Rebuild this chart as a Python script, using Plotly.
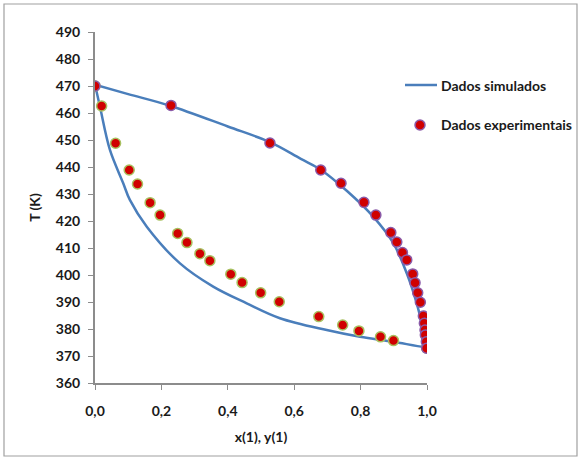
import plotly.graph_objects as go

# Simulated curves
sim_dew_x = [0.0, 0.1, 0.226, 0.4, 0.527, 0.62, 0.68, 0.76, 0.838, 0.899, 0.939, 0.969, 0.989, 1.0]
sim_dew_T = [470.5, 467.0, 462.7, 455.0, 449.2, 443.0, 439.0, 431.0, 421.6, 411.7, 400.6, 389.5, 379.6, 373.5]
sim_bub_x = [0.0, 0.015, 0.045, 0.085, 0.105, 0.156, 0.256, 0.356, 0.457, 0.557, 0.698, 0.798, 0.898, 0.989, 1.0]
sim_bub_T = [470.5, 462.3, 446.3, 434.0, 427.8, 417.9, 404.3, 395.7, 389.5, 384.0, 379.6, 377.1, 375.3, 373.4, 373.5]

# Experimental data
exp_y1 = [0.0, 0.229, 0.527, 0.680, 0.741, 0.810, 0.846, 0.891, 0.909, 0.926, 0.939, 0.957, 0.964,
          0.972, 0.980, 0.989, 0.992, 0.994, 0.995, 0.998, 0.999]
exp_Ty = [470.0, 462.8, 448.9, 438.9, 434.0, 426.9, 422.2, 415.7, 412.2, 408.3, 405.6, 400.4, 397.1,
          393.4, 389.9, 384.8, 382.1, 379.6, 377.8, 375.3, 372.9]
exp_x1 = [0.0, 0.020, 0.062, 0.103, 0.128, 0.166, 0.196, 0.249, 0.277, 0.316, 0.346, 0.409, 0.443,
          0.499, 0.555, 0.674, 0.746, 0.795, 0.860, 0.899, 0.999]
exp_Tx = [470.0, 462.6, 448.8, 438.9, 433.7, 426.8, 422.2, 415.4, 412.0, 407.9, 405.3, 400.3, 397.2,
          393.4, 390.1, 384.6, 381.5, 379.3, 377.1, 375.7, 373.0]

legend_labels = ["Dados simulados", "Dados experimentais"]

FONT = "Lato, Liberation Sans, Arial, sans-serif"
BLUE = "#4a7ebb"
RED = "#d00000"
PURPLE = "#8a5aa8"
GREEN = "#a8c060"
AXC = "#8c8c8c"
TXT = "#1a1a1a"

fig = go.Figure()
fig.add_trace(go.Scatter(x=sim_bub_x, y=sim_bub_T, mode="lines", line=dict(color=BLUE, width=2.5, shape="spline"),
                         name=legend_labels[0]))
fig.add_trace(go.Scatter(x=sim_dew_x, y=sim_dew_T, mode="lines", line=dict(color=BLUE, width=2.5, shape="spline"),
                         name=legend_labels[0]))
fig.add_trace(go.Scatter(x=exp_x1, y=exp_Tx, mode="markers",
                         marker=dict(color=RED, size=10, line=dict(color=GREEN, width=1.5)),
                         name=legend_labels[1]))
fig.add_trace(go.Scatter(x=exp_y1, y=exp_Ty, mode="markers",
                         marker=dict(color=RED, size=10, line=dict(color=PURPLE, width=1.5)),
                         name=legend_labels[1]))

W, H = 578, 457
L, R, T, B = 95, 151, 32, 74
pw, ph = W - L - R, H - T - B


def px(x):
    return (x - L) / pw


def py(y):
    return 1 - (y - T) / ph


# Legend drawn as layout decorations (a plotly legend would push the right margin)
shapes = [
    dict(type="rect", xref="paper", yref="paper", x0=px(4), x1=px(W - 1), y0=py(H - 1), y1=py(4),
         line=dict(color="#a0a0a0", width=1.2), layer="below"),
    dict(type="line", xref="paper", yref="paper", x0=px(405), x1=px(437), y0=py(85), y1=py(85),
         line=dict(color=BLUE, width=2.5)),
    dict(type="circle", xref="paper", yref="paper", x0=px(415), x1=px(425), y0=py(130), y1=py(120),
         fillcolor=RED, line=dict(color=PURPLE, width=1.5)),
]
annotations = [
    dict(xref="paper", yref="paper", x=px(439), y=py(85), text=legend_labels[0], showarrow=False,
         xanchor="left", yanchor="middle", font=dict(family=FONT, size=14, color=TXT, weight="bold")),
    dict(xref="paper", yref="paper", x=px(439), y=py(125), text=legend_labels[1], showarrow=False,
         xanchor="left", yanchor="middle", font=dict(family=FONT, size=14, color=TXT, weight="bold")),
]

fig.update_layout(
    width=W, height=H,
    margin=dict(l=L, r=R, t=T, b=B),
    paper_bgcolor="white", plot_bgcolor="white",
    font=dict(family=FONT, size=14, color=TXT, weight="bold"),
    showlegend=False,
    xaxis=dict(range=[0, 1.0], tickvals=[0, 0.2, 0.4, 0.6, 0.8, 1.0], tickformat=".1f",
               showgrid=False, zeroline=False, showline=True, linecolor=AXC, linewidth=2,
               ticks="outside", ticklen=5, tickcolor=AXC, tickwidth=1, ticklabelstandoff=9,
               title=dict(text="x(1), y(1)", standoff=14, font=dict(size=14, weight="bold")),
               tickfont=dict(size=14, weight="bold")),
    yaxis=dict(range=[360, 490], dtick=10, tick0=360,
               showgrid=False, zeroline=False, showline=True, linecolor=AXC, linewidth=2,
               ticks="outside", ticklen=5, tickcolor=AXC, tickwidth=1, ticklabelstandoff=5,
               title=dict(text="T (K)", standoff=12, font=dict(size=14, weight="bold")),
               tickfont=dict(size=14, weight="bold")),
    separators=",.",
    shapes=shapes,
    annotations=annotations,
)
fig.update_xaxes(automargin=False)
fig.update_yaxes(automargin=False)

post = ("document.documentElement.style.overflow='hidden';"
        "document.body.style.margin='0';document.body.style.overflow='hidden';")
fig.write_html("out.html", post_script=post, config={"displayModeBar": False})
